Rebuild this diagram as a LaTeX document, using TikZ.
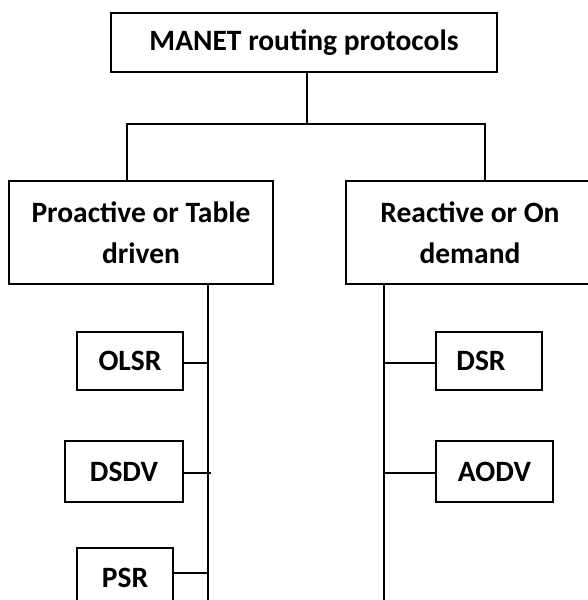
\documentclass[tikz,border=0pt]{standalone}
\usepackage{fontspec}
\setmainfont{Carlito}
\usetikzlibrary{positioning,calc}

\begin{document}
\begin{tikzpicture}[
  x=1pt, y=-1pt,
  font=\fontsize{29.5}{41}\selectfont\bfseries,
  box/.style={
    rectangle, draw=black, line width=2pt, fill=white,
    inner sep=0pt, align=center
  },
  link/.style={black, line width=1.7pt},
]
\clip (0,0) rectangle (588,600);

% Root
\node[box, minimum width=386pt, minimum height=59pt] (root) at (304,42.5)
  {MANET routing protocols};

% Two families
\node[box, minimum width=264pt, minimum height=103pt] (pro) at (141,232.5)
  {Proactive or Table\\driven};
\node[box, minimum width=248pt, minimum height=103pt] (rea) at (470,232.5)
  {Reactive or On\\demand};

% Proactive protocols
\node[box, minimum width=106pt, minimum height=58pt] (olsr) at (130,361) {OLSR};
\node[box, minimum width=118pt, minimum height=61pt] (dsdv) at (124,471.5) {DSDV};
\node[box, minimum width=96pt,  minimum height=60pt] (psr)  at (125,578) {PSR};

% Reactive protocols
\node[box, minimum width=106pt, minimum height=58pt] (dsr)  at (489,361) {DSR\hspace*{16pt}};
\node[box, minimum width=117pt, minimum height=61pt] (aodv) at (494.5,471.5) {AODV};

% Fork below the root
\coordinate (fork) at (307,124);
\draw[link] (fork |- root.south) -- (fork);
\draw[link] ([xshift=-14pt]pro.north) |- (fork) -| ([xshift=15pt]rea.north);

% Trunks down from the families
\coordinate (lbot) at (208,605);
\coordinate (rbot) at (384,605);
\draw[link] (lbot |- pro.south) -- (lbot);
\draw[link] (rbot |- rea.south) -- (rbot);

% Branches to the protocols
\draw[link] ([yshift=-2pt]olsr.east) -- ([yshift=-2pt]olsr.east -| lbot);
\draw[link] ([yshift=-1.5pt]dsdv.east) -- ([xshift=3pt,yshift=-1.5pt]dsdv.east -| lbot);
\draw[link] ([yshift=5pt]psr.east) -- ([yshift=5pt]psr.east -| lbot);
\draw[link] ([yshift=-2pt]dsr.west) -- ([yshift=-2pt]dsr.west -| rbot);
\draw[link] ([yshift=-1.5pt]aodv.west) -- ([yshift=-1.5pt]aodv.west -| rbot);

\end{tikzpicture}
\end{document}
